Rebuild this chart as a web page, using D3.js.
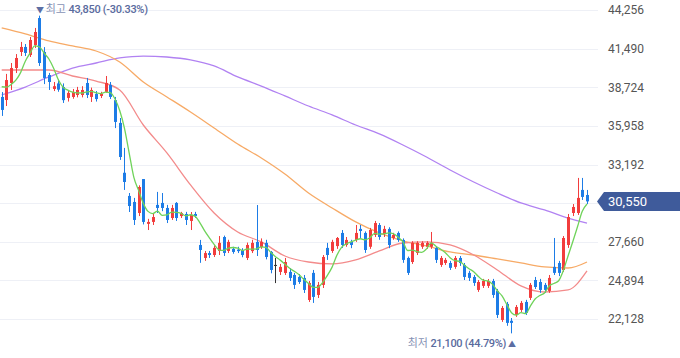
<!DOCTYPE html>
<html><head><meta charset="utf-8">
<script src="https://cdn.jsdelivr.net/npm/d3@7"></script>
<style>html,body{margin:0;padding:0;background:#fff;}svg{display:block;}</style>
</head><body>
<script>
// ---- data ----
const prevCloses = [39400, 39100, 39300, 38900];
const opens = [38030,37810,39030,40100,41250,41610,41030,41750,43680,41250,39600,38600,39000,38740,37960,38030,38170,38170,39030,38030,38240,38100,38390,38890,37800,36170,32600,30940,30510,29720,32150,28940,29080,30300,30440,30080,29360,30440,29500,29650,29150,29650,27430,26500,26850,26710,27000,28000,27000,27150,27100,27070,26500,26990,27650,27280,27580,26930,26000,25500,25420,25500,25280,25140,25070,23490,25430,23850,24570,27220,27000,27350,28290,27430,27650,27790,28580,28290,27300,28150,28860,28220,28580,27930,28290,27790,26500,26210,26860,27300,27300,27300,27220,26000,26140,26140,25860,26500,26000,25430,25140,24210,24500,24500,24850,24140,22060,23210,22000,22420,22780,23350,23640,24920,24780,24570,24140,25860,26140,25640,27430,29720,29720,31370,31010];
const highs = [38380,39680,40460,41100,41970,41820,42320,42970,43850,41600,39750,39100,39300,39000,38500,38600,38750,38800,39390,38700,38450,38400,39530,39100,38030,36520,34380,31150,30800,31700,32150,29300,29650,31230,31150,30300,30300,30500,29800,29800,29790,29800,27790,27000,27000,27400,28070,28100,27800,27300,27300,27200,27600,27800,30290,27900,27800,27000,26500,26070,26500,25780,25430,25350,25280,24850,25640,24780,26710,27580,27800,28000,28500,28000,27800,28860,28860,28400,28650,29150,29000,28800,28700,28300,28400,27900,26600,27700,27700,27700,27700,28360,27350,26640,26500,26290,26640,26640,26140,25580,25280,24920,25000,24990,25000,24280,23060,23350,22200,23130,23420,23500,24710,25140,25000,24710,25280,27930,26290,28070,29650,30360,32230,32230,31370];
const lows = [36670,37380,38530,39740,40960,40960,40890,41530,40250,38950,38530,38450,38400,37600,37700,37900,38000,38000,37950,37670,37700,37950,38320,37880,35800,33520,31370,29790,28860,29500,28900,28500,28860,29720,29850,29000,29220,29150,29360,28860,28500,29360,26150,26290,26500,26570,26710,26640,26850,26800,26850,26550,26350,26850,26640,27150,26400,25400,24700,25280,25280,24850,24280,24640,23990,23350,23280,23630,24350,26360,26860,27150,27220,27300,27200,27650,27930,26860,27150,28000,27800,28000,27200,27800,27650,26150,25280,26070,26710,27150,27150,27150,26140,25860,26000,25640,25720,25930,24920,24850,24500,24070,24350,24350,23640,22200,21920,21640,21100,22280,22630,22420,23490,24280,24000,24000,24000,25280,25200,25500,27220,29500,29580,30650,30360];
const closes = [37100,39240,40100,40820,41610,41180,42110,42680,40460,39390,39100,38800,38550,37800,38320,38390,38530,38530,38170,38530,37880,38250,39030,38030,36240,33730,31940,30220,29220,31580,29080,29080,29430,30080,30080,29220,30080,29360,29720,29220,29580,29500,27070,26850,26710,27220,27580,26860,27650,26930,26990,26710,27430,27580,27070,27650,26570,25640,26000,25860,26210,25070,24570,24780,24210,24710,23710,24570,26570,26710,27650,27930,27430,27790,27430,28290,28430,27070,28500,29000,28000,28580,27430,28150,27790,26360,25430,27580,27580,27580,27580,27580,26360,26500,26360,25790,26500,26140,25140,25070,24710,24780,24850,24850,23850,22420,22920,21850,21850,22990,23280,22560,24570,24420,24210,24210,25070,25430,25430,27930,29430,30150,30800,30870,30550];
const maIdx = [0,5,10,15,20,25,30,35,40,45,50,55,60,65,70,75,80,85,90,95,100,105,110,115,120,124];
const ma20 = [39960,39960,39960,39530,39170,38530,36020,34020,31730,29720,28360,27650,26640,26210,26070,26360,27000,27570,27650,27430,26710,25640,24500,24060,24210,25570];
const ma60 = [42970,42540,42040,41680,41320,40530,39100,38030,36950,35810,34660,33660,32510,31150,30080,29080,28290,27720,27360,26930,26710,26430,26140,25860,25780,26210];
const ma120 = [38170,38740,39460,40100,40460,40820,40960,40890,40680,40250,39460,38810,38100,37380,36740,36020,35380,34590,33730,32800,31940,31150,30440,29940,29360,29000];
const tickValues = [44256, 41490, 38724, 35958, 33192, 30426, 27660, 24894, 22128];
const tickLabels = ["44,256","41,490","38,724","35,958","33,192","","27,660","24,894","22,128"];
const lastPrice = 30550, lastLabel = "30,550";
const hiIdx = 8, hiText = "43,850 (-30.33%)";
const loIdx = 108, loText = "21,100 (44.79%)";

// ---- chart ----
const W = 680, H = 358;
const N = closes.length;
const svg = d3.select("body").append("svg").attr("width", W).attr("height", H)
  .style("font-family", "'Noto Sans CJK KR','Noto Sans',Roboto,sans-serif");

const x = d3.scaleLinear().domain([0, N - 1]).range([1.7, 587]);
const y = d3.scaleLinear().domain([22128, 44256]).range([319, 10]);

// grid
svg.append("g").selectAll("line").data(tickValues).join("line")
  .attr("x1", 0).attr("x2", 598)
  .attr("y1", d => Math.round(y(d)) + 0.5).attr("y2", d => Math.round(y(d)) + 0.5)
  .attr("stroke", "#eef0f6").attr("stroke-width", 1);

// axis labels
const yAxis = d3.axisRight(y).tickValues(tickValues)
  .tickFormat((d, i) => tickLabels[i]).tickSize(0).tickPadding(0);
const ag = svg.append("g").attr("transform", "translate(608,0)").call(yAxis);
ag.select(".domain").remove();
ag.selectAll("text").attr("fill", "#555").attr("font-size", 12)
  .style("font-family", "Roboto,'Noto Sans',sans-serif");

// MA lines (long ones behind candles)
const maLine = d3.line().x((d, i) => x(maIdx[i])).y(d => y(d)).curve(d3.curveMonotoneX);
svg.append("path").attr("d", maLine(ma120)).attr("fill", "none").attr("stroke", "#b182f2").attr("stroke-width", 1.3);
svg.append("path").attr("d", maLine(ma60)).attr("fill", "none").attr("stroke", "#f7aa66").attr("stroke-width", 1.3);
svg.append("path").attr("d", maLine(ma20)).attr("fill", "none").attr("stroke", "#f38b8b").attr("stroke-width", 1.3);

// candles
const colorOf = i => closes[i] > opens[i] ? "#f23d3d" : (closes[i] < opens[i] ? "#1d7ce6" : "#333");
const cg = svg.append("g");
const idx = d3.range(N);
cg.selectAll("line").data(idx).join("line")
  .attr("x1", i => Math.round(x(i)) + 0.5).attr("x2", i => Math.round(x(i)) + 0.5)
  .attr("y1", i => y(highs[i])).attr("y2", i => y(lows[i]))
  .attr("stroke", colorOf).attr("stroke-width", 1);
cg.selectAll("rect").data(idx).join("rect")
  .attr("x", i => Math.round(x(i)) - 1)
  .attr("width", 3)
  .attr("y", i => y(Math.max(opens[i], closes[i])))
  .attr("height", i => Math.max(1, Math.abs(y(opens[i]) - y(closes[i]))))
  .attr("fill", colorOf);

// MA5 (green) computed from closes
const all = prevCloses.concat(closes);
const ma5 = closes.map((c, i) => d3.mean(all.slice(i, i + 5)));
const line5 = d3.line().x((d, i) => x(i)).y(d => y(d)).curve(d3.curveMonotoneX);
svg.append("path").attr("d", line5(ma5)).attr("fill", "none").attr("stroke", "#6fd35a").attr("stroke-width", 1.3);

// high annotation
const numFont = "Roboto,'Noto Sans',sans-serif";
const ht = svg.append("text").attr("x", x(hiIdx) - 3.5).attr("y", 13).attr("font-size", 11);
ht.append("tspan").text("▼ ").attr("fill", "#5c6ea3").attr("font-size", 8);
ht.append("tspan").text("최고 ").attr("fill", "#8792b5");
ht.append("tspan").text(hiText).attr("fill", "#5a6b9e").attr("font-weight", 500)
  .style("font-family", numFont).attr("font-size", 11).attr("letter-spacing", -0.3);

// low annotation
const lt = svg.append("text").attr("x", x(loIdx) + 4.5).attr("y", 347).attr("font-size", 11).attr("text-anchor", "end");
lt.append("tspan").text("최저 ").attr("fill", "#8792b5");
lt.append("tspan").text(loText).attr("fill", "#5a6b9e").attr("font-weight", 500)
  .style("font-family", numFont).attr("font-size", 11).attr("letter-spacing", -0.3);
lt.append("tspan").text(" ▲").attr("fill", "#5c6ea3").attr("font-size", 8);

// last price badge
const by = y(lastPrice);
svg.append("path")
  .attr("d", `M597,${by} L604,${by - 9.5} L680,${by - 9.5} L680,${by + 9.5} L604,${by + 9.5} Z`)
  .attr("fill", "#3f5b9b");
svg.append("text").attr("x", 608).attr("y", by + 4.5).attr("fill", "#fff").attr("font-size", 13)
  .style("font-family", "Roboto,'Noto Sans',sans-serif").text(lastLabel);
</script>
</body></html>
